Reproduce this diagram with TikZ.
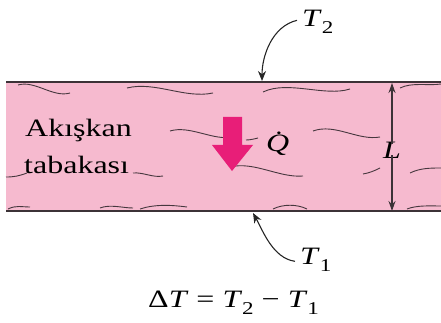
\documentclass[tikz,border=0pt]{standalone}
\usepackage{fontspec}
\setmainfont{Liberation Serif}[FakeStretch=1.28]
\usetikzlibrary{arrows.meta}
\definecolor{bandpink}{RGB}{246,186,207}
\definecolor{linegray}{RGB}{60,50,55}
\definecolor{wavegray}{RGB}{70,55,62}
\definecolor{qmag}{RGB}{232,30,120}
\newcommand\sbx[1]{\raisebox{-0.28em}{\fontsize{18}{18}\selectfont #1}}
\tikzset{
  wave/.style={draw=wavegray, line width=0.9pt},
  edge/.style={draw=linegray, line width=1.4pt},
  lbl/.style={inner sep=0pt, font=\fontsize{25}{30}\selectfont},
  callout/.style={draw=black!85, line width=1.1pt, -{Stealth[length=10pt,width=8pt]}},
  dim/.style={draw=linegray, line width=1.1pt, -{Stealth[length=10pt,width=7pt]}},
}
\begin{document}
\begin{tikzpicture}[x=1pt,y=-1pt]
\useasboundingbox (0,0) rectangle (441,323);
% band
\fill[bandpink] (6,82) rectangle (441,211);
% waves
\draw[wave] (18,85) .. controls +(17,-5) and +(-17,5) .. (70,93);
\draw[wave] (127,88) .. controls +(28,-7) and +(-28,6) .. (213,93);
\draw[wave] (263,92) .. controls +(25,-12) and +(-25,8) .. (350,89);
\draw[wave] (400,88) .. controls +(12,-6) and +(-12,2) .. (441,84);
\draw[wave] (170,131) .. controls +(20,-6) and +(-20,4) .. (233,137);
\draw[wave] (246,140) .. controls +(4,0) and +(-4,1) .. (258,138);
\draw[wave] (313,131) .. controls +(22,-8) and +(-22,4) .. (380,137);
\draw[wave] (6,177) .. controls +(8,0) and +(-8,3) .. (27,173);
\draw[wave] (133,173) .. controls +(10,-1) and +(-10,2) .. (163,176);
\draw[wave] (230,167) .. controls +(24,-6) and +(-24,2) .. (303,176);
\draw[wave] (363,174) .. controls +(6,-1) and +(-6,3) .. (380,168);
\draw[wave] (410,173) .. controls +(10,-5) and +(-10,0) .. (441,168);
\draw[wave] (8,209) .. controls +(8,-4) and +(-8,0) .. (30,207);
\draw[wave] (100,208) .. controls +(10,-4) and +(-10,0) .. (133,208);
\draw[wave] (140,209) .. controls +(15,-5) and +(-15,-2) .. (187,207);
\draw[wave] (273,209) .. controls +(10,-5) and +(-10,-5) .. (307,209);
\draw[wave] (407,209) .. controls +(10,-4) and +(-10,0) .. (441,206);
% band edges
\draw[edge] (6,82) -- (441,82);
\draw[edge] (6,211) -- (441,211);
% fluid label
\node[lbl, anchor=base west] (akiskan) at (25,137) {Akışkan};
\node[lbl, anchor=base west] (tabakasi) at (24,173) {tabakası};
% heat flow arrow
\fill[qmag] (223,117) -- (242,117) -- (242,145) -- (253,145) -- (232,171) -- (212,145) -- (223,145) -- cycle;
\node[lbl, anchor=base west] (Q) at (266,152) {\makebox[0pt][l]{\hspace{0.3em}\raisebox{0.15em}{˙}}\textit{Q}};
% thickness
\coordinate (Ltop) at (392,83);
\coordinate (Lbot) at (392,211);
\node[lbl, anchor=base] (L) at (392,158) {\textit{L}};
\draw[dim] ([yshift=-3pt]L.north) -- (Ltop);
\draw[dim] ([yshift=3pt]L.south) -- (Lbot);
% temperatures
\node[lbl, anchor=base west] (T2) at (302,27) {\textit{T}\sbx{2}};
\coordinate (top2) at (262,81);
\draw[callout] ([xshift=-5pt,yshift=2pt]T2.west) .. controls +(-25,6) and +(0,-25) .. (top2);
\node[lbl, anchor=base west] (T1) at (300,264) {\textit{T}\sbx{1}};
\coordinate (bot1) at (253,213);
\draw[callout] ([xshift=-5pt,yshift=-2pt]T1.west) .. controls +(-22,-3) and +(10,18) .. (bot1);
% relation
\node[lbl, anchor=base west] (rel) at (148,307) {Δ\textit{T} = \textit{T}\sbx{2} − \textit{T}\sbx{1}};
\end{tikzpicture}
\end{document}
